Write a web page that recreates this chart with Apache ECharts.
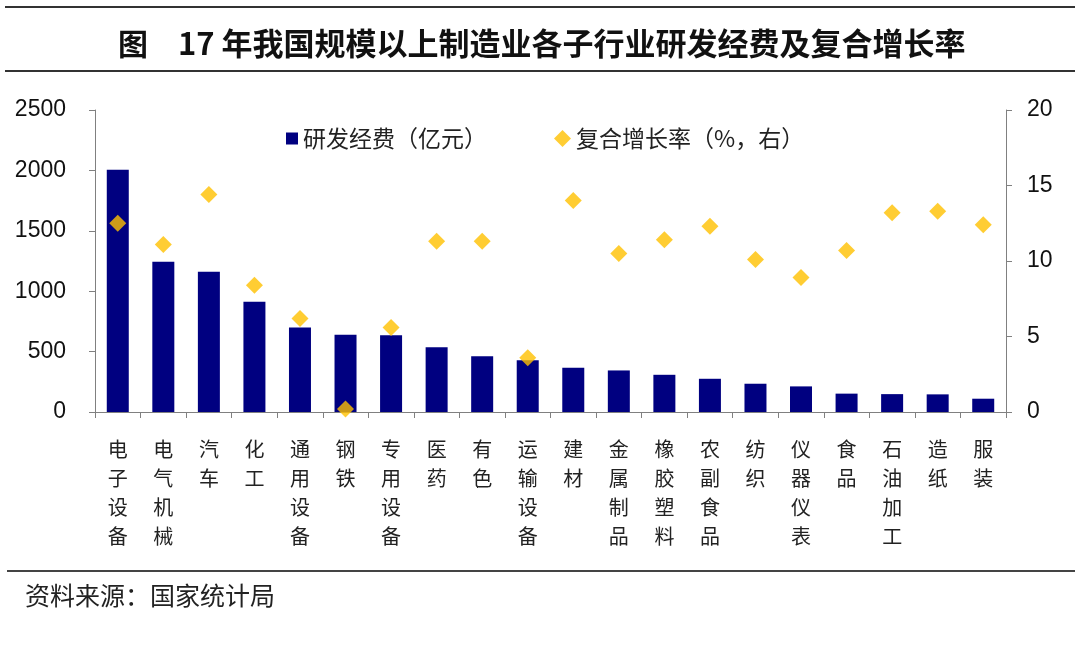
<!DOCTYPE html>
<html>
<head>
<meta charset="utf-8">
<script src="https://cdn.jsdelivr.net/npm/echarts@6/dist/echarts.min.js"></script>
<style>
  html, body { margin: 0; padding: 0; background: #fff; }
  #main { width: 1080px; height: 660px; }
</style>
</head>
<body>
<div id="main"></div>
<script>
// 各子行业
var industries = ['电子设备', '电气机械', '汽车', '化工', '通用设备', '钢铁', '专用设备', '医药', '有色', '运输设备',
  '建材', '金属制品', '橡胶塑料', '农副食品', '纺织', '仪器仪表', '食品', '石油加工', '造纸', '服装'];
// 研发经费（亿元）
var rdSpend = [2005, 1244, 1162, 912, 700, 640, 635, 536, 461, 428,
  366, 344, 308, 275, 234, 212, 152, 148, 146, 110];
// 复合增长率（%）
var cagr = [12.5, 11.1, 14.4, 8.4, 6.2, 0.2, 5.6, 11.3, 11.3, 3.6,
  14.0, 10.5, 11.4, 12.3, 10.1, 8.9, 10.7, 13.2, 13.3, 12.4];

var leftTicks = [0, 2500, 500];   // min, max, interval
var rightTicks = [0, 20, 5];

var cjk = '"Noto Sans CJK SC", sans-serif';
var latin = '"Liberation Sans", Arial, sans-serif';

var myChart = echarts.init(document.getElementById('main'));
myChart.setOption({
  backgroundColor: '#fff',
  animation: false,
  title: [
    { text: '图', left: 113, top: 24, textStyle: { fontFamily: cjk, fontSize: 30, fontWeight: 'bold', color: '#111' } },
    { text: '17 年我国规模以上制造业各子行业研发经费及复合增长率', left: 173, top: 23,
      textStyle: { fontFamily: cjk, fontSize: 31, fontWeight: 'bold', color: '#111' } }
  ],
  graphic: [
    { type: 'rect', shape: { x: 5, y: 6, width: 1070, height: 2 }, style: { fill: '#333' } },
    { type: 'rect', shape: { x: 5, y: 70, width: 1070, height: 2 }, style: { fill: '#333' } },
    { type: 'rect', shape: { x: 7, y: 570, width: 1068, height: 2 }, style: { fill: '#444' } },
    { type: 'text', left: 25, top: 583, style: { text: '资料来源：国家统计局', fontFamily: cjk, fontSize: 25, fill: '#222' } }
  ],
  legend: [
    { data: ['研发经费（亿元）'], left: 281, top: 122, icon: 'rect', itemWidth: 12, itemHeight: 12, itemGap: 4,
      textStyle: { fontFamily: cjk, fontSize: 23, color: '#222' } },
    { data: ['复合增长率（%，右）'], left: 549, top: 122, icon: 'diamond', itemWidth: 17, itemHeight: 17, itemGap: 4,
      textStyle: { fontFamily: cjk, fontSize: 23, color: '#222' } }
  ],
  grid: { left: 95, right: 74, top: 110, bottom: 248 },
  xAxis: {
    type: 'category',
    data: industries,
    axisLine: { lineStyle: { color: '#808080' } },
    axisTick: { show: true, length: 6, lineStyle: { color: '#808080' } },
    axisLabel: {
      interval: 0, margin: 23, fontFamily: cjk, fontSize: 20, lineHeight: 29, color: '#222',
      formatter: function (v) { return v.split('').join('\n'); }
    }
  },
  yAxis: [
    {
      type: 'value', min: leftTicks[0], max: leftTicks[1], interval: leftTicks[2],
      axisLine: { show: true, lineStyle: { color: '#808080' } },
      axisTick: { show: true, length: 6, lineStyle: { color: '#808080' } },
      splitLine: { show: false },
      axisLabel: { margin: 29, fontFamily: latin, fontSize: 23, color: '#111',
        formatter: function (v) { return String(v); } }
    },
    {
      type: 'value', min: rightTicks[0], max: rightTicks[1], interval: rightTicks[2],
      axisLine: { show: true, lineStyle: { color: '#808080' } },
      axisTick: { show: true, length: 6, lineStyle: { color: '#808080' } },
      splitLine: { show: false },
      axisLabel: { margin: 21, fontFamily: latin, fontSize: 23, color: '#111' }
    }
  ],
  series: [
    {
      name: '研发经费（亿元）', type: 'bar', yAxisIndex: 0, barWidth: 22,
      itemStyle: { color: '#000080' },
      data: rdSpend
    },
    {
      name: '复合增长率（%，右）', type: 'scatter', yAxisIndex: 1,
      symbol: 'diamond', symbolSize: 17,
      itemStyle: { color: '#FFC000' },
      data: cagr
    }
  ]
});
</script>
</body>
</html>
